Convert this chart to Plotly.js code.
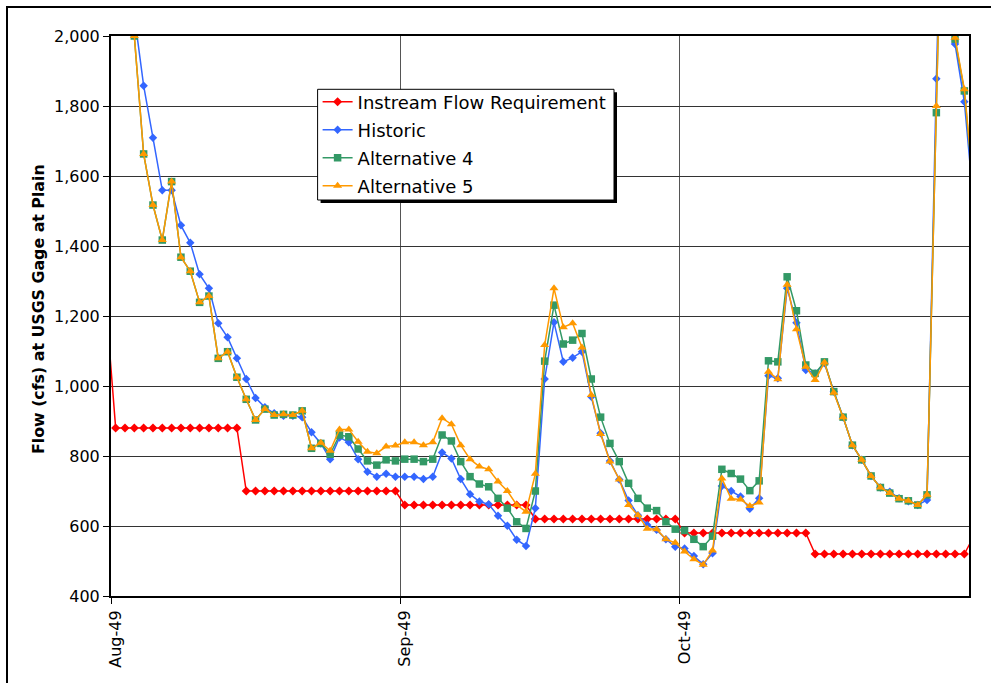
<!DOCTYPE html>
<html>
<head>
<meta charset="utf-8">
<script src="https://cdn.plot.ly/plotly-3.0.1.min.js"></script>
<style>
  html, body { margin: 0; padding: 0; background: #fff; }
  #wrap { position: relative; width: 991px; height: 683px; overflow: hidden; }
  #frame { position: absolute; left: 6px; top: 6px; width: 1100px; height: 800px; border: 2px solid #000; box-sizing: border-box; pointer-events: none; z-index: 5; }
  #chart { position: absolute; left: 0; top: 0; width: 991px; height: 683px; }
</style>
</head>
<body>
<div id="wrap">
  <div id="chart"></div>
  <div id="frame"></div>
</div>
<script>
// Daily series, first value = 31 Jul 1949, last value = 1 Nov 1949
const firstDay = '1949-07-31';
const seriesNames = ['Instream Flow Requirement', 'Historic', 'Alternative 4', 'Alternative 5'];
const tickDates = ['1949-08-01', '1949-09-01', '1949-10-01'];
const tickLabels = ['Aug-49', 'Sep-49', 'Oct-49'];
const yTitle = 'Flow (cfs) at USGS Gage at Plain';

const instream = [1220,
  880,880,880,880,880,880,880,880,880,880,880,880,880,880,
  700,700,700,700,700,700,700,700,700,700,700,700,700,700,700,700,700,
  660,660,660,660,660,660,660,660,660,660,660,660,660,660,
  620,620,620,620,620,620,620,620,620,620,620,620,620,620,620,620,
  580,580,580,580,580,580,580,580,580,580,580,580,580,580,
  520,520,520,520,520,520,520,520,520,520,520,520,520,520,520,520,520,
  570];

const historic = [null,
  2700,2450,2060,1858,1709,1559,1559,1459,1409,1319,
  1279,1179,1139,1079,1020,966,939,922,915,915,
  911,868,836,791,853,839,791,755,741,749,741,
  741,741,734,741,810,793,734,691,670,662,
  629,601,561,543,651,1020,1182,1069,1081,1098,
  969,865,786,733,673,631,603,589,562,541,
  536,514,491,522,714,700,684,649,679,1029,
  1022,1279,1181,1046,1036,1065,984,911,831,789,
  743,710,698,679,671,660,674,1878,2900,1977,1812,
  1520];

const alt4 = [null,
  2700,2400,2000,1663,1517,1417,1584,1368,1328,1239,
  1257,1079,1098,1025,962,903,934,917,919,917,
  929,822,836,805,860,855,820,786,774,789,786,
  791,791,784,791,860,843,784,741,720,712,
  679,651,612,593,700,1071,1231,1120,1131,1150,
  1020,911,836,784,722,679,651,644,612,591,
  587,562,541,571,762,750,734,701,729,1072,
  1069,1312,1215,1060,1036,1069,984,911,831,789,
  743,710,694,678,672,660,689,1781,2900,1991,1843,
  1550];

const alt5 = [null,
  2700,2400,2000,1663,1517,1417,1584,1368,1328,1239,
  1257,1079,1098,1025,962,903,934,917,919,917,
  929,822,838,815,876,876,841,812,808,827,830,
  839,839,831,839,908,891,831,791,770,762,
  727,700,660,641,749,1117,1279,1168,1179,1110,
  974,863,784,733,660,631,592,591,562,552,
  527,505,489,530,736,678,676,657,667,1041,
  1019,1289,1162,1055,1017,1067,981,911,831,789,
  743,710,694,678,672,660,689,1800,2900,1995,1848,
  1560];

// build daily dates (noon of each day) for the category positions
function buildDates(start, n) {
  const out = [];
  const d0 = new Date(start + 'T12:00:00Z');
  for (let i = 0; i < n; i++) {
    const d = new Date(d0.getTime() + i * 86400000);
    out.push(d.toISOString().slice(0, 10) + ' 12:00');
  }
  return out;
}
const dates = buildDates(firstDay, instream.length);

const FONT = 'DejaVu Sans, Arial, sans-serif';

// plot area in pixels
const L = 111, R = 969, T = 36, B = 596;
const W = 991, H = 683;
const px2x = p => (p - L) / (R - L);
const px2y = p => (B - p) / (B - T);

const traces = [
  {name: seriesNames[0], legendgroup: 'a', x: dates, y: instream, mode: 'lines+markers',
   line: {color: '#FF0000', width: 1.5}, marker: {symbol: 'diamond', size: 7, color: '#FF0000'}},
  {name: seriesNames[1], legendgroup: 'b', x: dates, y: historic, mode: 'lines+markers',
   line: {color: '#3366FF', width: 1.5}, marker: {symbol: 'diamond', size: 6.5, color: '#3366FF'}},
  {name: seriesNames[2], legendgroup: 'c', x: dates, y: alt4, mode: 'lines+markers',
   line: {color: '#339966', width: 1.5}, marker: {symbol: 'square', size: 7.5, color: '#339966'}},
  {name: seriesNames[3], legendgroup: 'd', x: dates, y: alt5, mode: 'lines+markers',
   line: {color: '#FF9900', width: 1.5}, marker: {symbol: 'triangle-up', size: 8, color: '#FF9900'}}
];

// legend box (pixels)
const legL = 317.6, legT = 89.3, legR = 614, legB = 200;

const layout = {
  width: W, height: H,
  margin: {l: L, r: W - R, t: T, b: H - B, pad: 0},
  paper_bgcolor: 'rgba(0,0,0,0)',
  plot_bgcolor: '#fff',
  font: {family: FONT, color: '#000', size: 16},
  showlegend: true,
  legend: {
    x: px2x(legL), y: px2y(83.5), xanchor: 'left', yanchor: 'top',
    bgcolor: 'rgba(0,0,0,0)', borderwidth: 0,
    font: {family: FONT, size: 18, color: '#000'},
    traceorder: 'grouped', tracegroupgap: 1.6, itemwidth: 30
  },
  xaxis: {
    type: 'date',
    range: ['1949-08-01 00:00', '1949-11-01 00:00'],
    tickmode: 'array', tickvals: tickDates, ticktext: tickLabels,
    tickangle: -90, ticks: 'outside', ticklen: 6, tickcolor: '#000', tickwidth: 1,
    ticklabelshift: 5,
    showgrid: true, gridcolor: '#555', gridwidth: 1,
    showline: true, linecolor: '#000', linewidth: 2, mirror: true,
    tickfont: {family: FONT, size: 16, color: '#000'},
    zeroline: false, fixedrange: true
  },
  yaxis: {
    range: [400, 2000], tickmode: 'linear', tick0: 400, dtick: 200,
    tickformat: ',d', ticks: 'outside', ticklen: 6, tickcolor: '#000', tickwidth: 1,
    showgrid: true, gridcolor: '#333', gridwidth: 1,
    showline: true, linecolor: '#000', linewidth: 2, mirror: true,
    tickfont: {family: FONT, size: 16, color: '#000'},
    automargin: false, zeroline: false, fixedrange: true
  },
  annotations: [
    {text: '<b>' + yTitle + '</b>', xref: 'paper', yref: 'paper',
     x: px2x(38), y: px2y(309), xanchor: 'center', yanchor: 'middle',
     textangle: -90, showarrow: false,
     font: {family: FONT, size: 15.8, color: '#000'}}
  ],
  shapes: [
    {type: 'rect', xref: 'paper', yref: 'paper', layer: 'above',
     x0: px2x(legL + 3), x1: px2x(legR + 3), y0: px2y(legB + 3), y1: px2y(legT + 3),
     fillcolor: '#000', line: {width: 0}},
    {type: 'rect', xref: 'paper', yref: 'paper', layer: 'above',
     x0: px2x(legL), x1: px2x(legR), y0: px2y(legB), y1: px2y(legT),
     fillcolor: '#fff', line: {color: '#000', width: 1}}
  ]
};

Plotly.newPlot('chart', traces, layout, {staticPlot: true, displayModeBar: false});
</script>
</body>
</html>
